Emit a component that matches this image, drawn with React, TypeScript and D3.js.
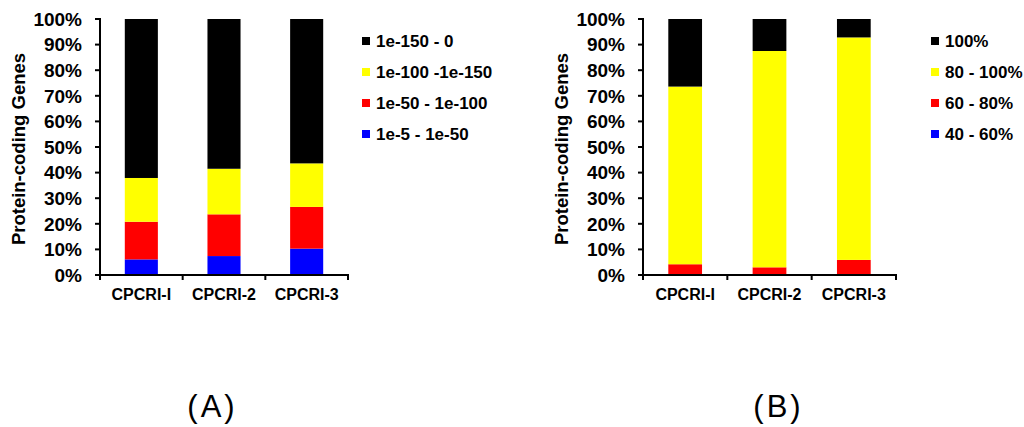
import React from 'react';
import * as d3 from 'd3';

const categories = ['CPCRI-I', 'CPCRI-2', 'CPCRI-3'];

// panel A: e-value ranges, bottom to top
const seriesA = ['1e-5 - 1e-50', '1e-50 - 1e-100', '1e-100 -1e-150', '1e-150 - 0'];
const valuesA = [
  [6.1, 7.4, 10.3],
  [14.7, 16.3, 16.3],
  [17.1, 17.8, 17.0],
  [62.1, 58.5, 56.4],
];

// panel B: identity ranges, bottom to top
const seriesB = ['40 - 60%', '60 - 80%', '80 - 100%', '100%'];
const valuesB = [
  [0, 0, 0],
  [4.2, 3.0, 5.9],
  [69.4, 84.5, 86.9],
  [26.4, 12.5, 7.2],
];

const colors = ['#0000ff', '#ff0000', '#ffff00', '#000000'];
const yTicks = [0, 10, 20, 30, 40, 50, 60, 70, 80, 90, 100];

const font = 'Liberation Sans, Arial, sans-serif';

type PanelProps = {
  series: string[];
  values: number[][];
  x0: number;
  x1: number;
  legendX: number;
  label: string;
  labelX: number;
};

function Panel({ series, values, x0, x1, legendX, label, labelX }: PanelProps) {
  const top = 19;
  const bottom = 275;

  const x = d3.scaleBand().domain(categories).range([x0, x1]).paddingInner(0.6).paddingOuter(0.3);
  const y = d3.scaleLinear().domain([0, 100]).range([bottom, top]);

  const rows = categories.map((c, i) => {
    const r: Record<string, number | string> = { cat: c };
    series.forEach((s, j) => (r[s] = values[j][i]));
    return r;
  });
  const stacked = d3.stack<Record<string, number | string>>().keys(series)(rows);

  const step = x.step();
  const boundaries = d3.range(categories.length + 1).map((i) => x0 + i * step);

  return (
    <g>
      {stacked.map((layer, j) => (
        <g key={series[j]} fill={colors[j]}>
          {layer.map((d, i) => (
            <rect
              key={i}
              x={x(categories[i])}
              y={y(d[1])}
              width={x.bandwidth()}
              height={Math.max(0, y(d[0]) - y(d[1]))}
            />
          ))}
        </g>
      ))}
      {/* y axis */}
      <line x1={x0} x2={x0} y1={top - 1} y2={bottom + 1} stroke="#000" strokeWidth={2} />
      {yTicks.map((t) => (
        <g key={t}>
          <line x1={x0 - 5} x2={x0} y1={y(t)} y2={y(t)} stroke="#000" strokeWidth={2} />
          <text
            x={x0 - 18}
            y={y(t)}
            dy="0.36em"
            textAnchor="end"
            fontSize={19}
            fontWeight="bold"
            fontFamily={font}
          >
            {t}%
          </text>
        </g>
      ))}
      {/* x axis */}
      <line x1={x0 - 1} x2={x1 + 1} y1={bottom} y2={bottom} stroke="#000" strokeWidth={2} />
      {boundaries.map((b, i) => (
        <line key={i} x1={b} x2={b} y1={bottom} y2={bottom + 5} stroke="#000" strokeWidth={2} />
      ))}
      {categories.map((c) => (
        <text
          key={c}
          x={(x(c) as number) + x.bandwidth() / 2}
          y={300}
          textAnchor="middle"
          fontSize={16}
          fontWeight="bold"
          fontFamily={font}
        >
          {c}
        </text>
      ))}
      <text
        transform={`translate(${x0 - 75},${(top + bottom) / 2 + 2}) rotate(-90)`}
        textAnchor="middle"
        fontSize={18.5}
        fontWeight="bold"
        fontFamily={font}
      >
        Protein-coding Genes
      </text>
      {/* legend */}
      {series
        .map((s, j) => ({ s, j }))
        .reverse()
        .map(({ s, j }, k) => (
          <g key={s} transform={`translate(${legendX},${41 + k * 31})`}>
            <rect x={0} y={-4} width={8} height={8} fill={colors[j]} />
            <text x={14} y={0} dy="0.36em" fontSize={17} fontWeight="bold" fontFamily={font}>
              {s}
            </text>
          </g>
        ))}
      <text
        x={labelX + 1.5}
        y={417}
        textAnchor="middle"
        fontSize={31}
        letterSpacing={3}
        fontFamily={font}
      >
        {label}
      </text>
    </g>
  );
}

export default function App() {
  return (
    <svg
      width={1024}
      height={427}
      style={{ position: 'absolute', left: 0, top: 0, background: '#fff' }}
      xmlns="http://www.w3.org/2000/svg"
    >
      <rect width={1024} height={427} fill="#fff" />
      <Panel series={seriesA} values={valuesA} x0={100} x1={348} legendX={362} label="(A)" labelX={211} />
      <Panel series={seriesB} values={valuesB} x0={643} x1={896} legendX={931} label="(B)" labelX={777} />
    </svg>
  );
}
